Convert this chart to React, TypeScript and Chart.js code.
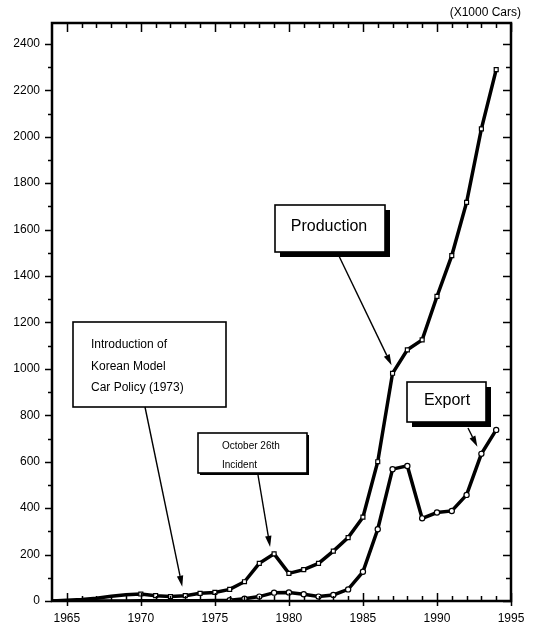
import React, { useEffect, useRef } from "react";
import { Chart, registerables } from "chart.js";

Chart.register(...registerables);

const years = [1964, 1965, 1966, 1967, 1968, 1969, 1970, 1971, 1972, 1973, 1974, 1975, 1976, 1977, 1978, 1979, 1980, 1981, 1982, 1983, 1984, 1985, 1986, 1987, 1988, 1989, 1990, 1991, 1992, 1993, 1994];
const production = [0, 3, 6, 12, 20, 27, 30, 23, 19, 23, 33, 37, 50, 83, 162, 203, 119, 135, 162, 215, 273, 361, 600, 981, 1082, 1125, 1312, 1488, 1717, 2034, 2289];
const exportVals = [0, 0, 0, 0, 0, 0, 1, 1, 1, 1, 1, 2, 3, 10, 19, 36, 37, 29, 19, 26, 50, 126, 309, 568, 582, 356, 381, 388, 457, 634, 737];
const xTickLabels = [1965, 1970, 1975, 1980, 1985, 1990, 1995];
const yTickLabels = [0, 200, 400, 600, 800, 1000, 1200, 1400, 1600, 1800, 2000, 2200, 2400];
const yMinorTicks = [100, 300, 500, 700, 900, 1100, 1300, 1500, 1700, 1900, 2100, 2300];
const unitLabel = "(X1000 Cars)";
const notePolicy = ["Introduction of", "Korean Model", "Car Policy (1973)"];
const noteOctober = ["October 26th", "Incident"];
const noteProduction = "Production";
const noteExport = "Export";

const FONT = "'Liberation Sans', Arial, sans-serif";

function drawArrow(ctx: CanvasRenderingContext2D, x1: number, y1: number, x2: number, y2: number) {
  ctx.save();
  ctx.strokeStyle = "#000";
  ctx.fillStyle = "#000";
  ctx.lineWidth = 1.4;
  const ang = Math.atan2(y2 - y1, x2 - x1);
  const hl = 11;
  const hw = 3.2;
  const bx = x2 - hl * Math.cos(ang);
  const by = y2 - hl * Math.sin(ang);
  ctx.beginPath();
  ctx.moveTo(x1, y1);
  ctx.lineTo(bx, by);
  ctx.stroke();
  ctx.beginPath();
  ctx.moveTo(x2, y2);
  ctx.lineTo(bx + hw * Math.sin(ang), by - hw * Math.cos(ang));
  ctx.lineTo(bx - hw * Math.sin(ang), by + hw * Math.cos(ang));
  ctx.closePath();
  ctx.fill();
  ctx.restore();
}

function drawBox(ctx: CanvasRenderingContext2D, x: number, y: number, w: number, h: number, shadow: number) {
  ctx.save();
  if (shadow > 0) {
    ctx.fillStyle = "#000";
    ctx.fillRect(x + shadow, y + shadow, w, h);
  }
  ctx.fillStyle = "#fff";
  ctx.fillRect(x, y, w, h);
  ctx.strokeStyle = "#000";
  ctx.lineWidth = 1.6;
  ctx.strokeRect(x, y, w, h);
  ctx.restore();
}

const framePlugin = {
  id: "frameTicks",
  afterDraw(chart: any) {
    const { ctx, chartArea, scales } = chart;
    const { left, right, top, bottom } = chartArea;
    const x = scales.x;
    const y = scales.y;
    ctx.save();
    ctx.strokeStyle = "#000";
    ctx.lineWidth = 1.5;
    const allY = [...yTickLabels.map((v) => ({ v, major: true })), ...yMinorTicks.map((v) => ({ v, major: false }))];
    allY.forEach(({ v, major }) => {
      const py = Math.round(y.getPixelForValue(v)) + 0.5;
      ctx.beginPath();
      ctx.moveTo(left, py);
      ctx.lineTo(left - (major ? 7 : 4), py);
      ctx.moveTo(right, py);
      ctx.lineTo(right - (major ? 8 : 5), py);
      ctx.stroke();
    });
    for (let i = 0; i < years.length + 1; i++) {
      const yr = years[0] + i + 1;
      if (yr > 1995) break;
      const major = xTickLabels.includes(yr);
      const px = Math.round(x.getPixelForValue(yr)) + 0.5;
      ctx.beginPath();
      ctx.moveTo(px, bottom + (major ? 5 : 0));
      ctx.lineTo(px, bottom - (major ? 8 : 5));
      ctx.moveTo(px, top);
      ctx.lineTo(px, top + (major ? 9 : 5));
      ctx.stroke();
    }
    ctx.lineWidth = 2.5;
    ctx.strokeRect(left, top, right - left, bottom - top);
    ctx.restore();

    // unit label
    ctx.save();
    ctx.fillStyle = "#000";
    ctx.font = `12px ${FONT}`;
    ctx.textAlign = "right";
    ctx.textBaseline = "middle";
    ctx.fillText(unitLabel, 521, 13);
    ctx.restore();

    // annotations
    const pt = (yr: number, arr: number[]) => {
      const i = years.indexOf(yr);
      return { px: x.getPixelForValue(yr), py: y.getPixelForValue(arr[i]) };
    };

    // Policy box
    drawBox(ctx, 73, 322, 153, 85, 0);
    ctx.save();
    ctx.fillStyle = "#000";
    ctx.font = `12px ${FONT}`;
    ctx.textBaseline = "middle";
    notePolicy.forEach((t, i) => ctx.fillText(t, 91, 345 + i * 21.5));
    ctx.restore();
    const p73 = pt(1973, production);
    drawArrow(ctx, 145, 407, p73.px - 3, p73.py - 9);

    // October box
    drawBox(ctx, 198, 433, 109, 40, 2);
    ctx.save();
    ctx.fillStyle = "#000";
    ctx.font = `10px ${FONT}`;
    ctx.textBaseline = "middle";
    noteOctober.forEach((t, i) => ctx.fillText(t, 222, 446 + i * 19));
    ctx.restore();
    const p79 = pt(1979, production);
    drawArrow(ctx, 258, 475, p79.px - 4, p79.py - 7);

    // Production box
    drawBox(ctx, 275, 205, 110, 47, 5);
    ctx.save();
    ctx.fillStyle = "#000";
    ctx.font = `16px ${FONT}`;
    ctx.textAlign = "center";
    ctx.textBaseline = "middle";
    ctx.fillText(noteProduction, 329, 227);
    ctx.restore();
    const p87 = pt(1987, production);
    drawArrow(ctx, 338, 254, p87.px - 1, p87.py - 8);

    // Export box
    drawBox(ctx, 407, 382, 79, 40, 5);
    ctx.save();
    ctx.fillStyle = "#000";
    ctx.font = `16px ${FONT}`;
    ctx.textAlign = "center";
    ctx.textBaseline = "middle";
    ctx.fillText(noteExport, 447, 401);
    ctx.restore();
    const e93 = pt(1993, exportVals);
    drawArrow(ctx, 468, 428, e93.px - 4, e93.py - 7);
  },
};

export default function App() {
  const ref = useRef<HTMLCanvasElement | null>(null);
  useEffect(() => {
    if (!ref.current) return;
    const chart = new Chart(ref.current, {
      type: "line",
      data: {
        datasets: [
          {
            label: "Production",
            data: years.map((yr, i) => ({ x: yr, y: production[i] })),
            borderColor: "#000",
            borderWidth: 3.5,
            pointStyle: "rect",
            pointRadius: years.map((yr) => (yr < 1970 ? 0 : 2.8)),
            pointBackgroundColor: "#fff",
            pointBorderColor: "#000",
            pointBorderWidth: 1.2,
            tension: 0,
          },
          {
            label: "Export",
            data: years.map((yr, i) => ({ x: yr, y: exportVals[i] })),
            borderColor: "#000",
            borderWidth: 3.5,
            pointStyle: "circle",
            pointRadius: years.map((yr) => (yr < 1976 ? 0 : 2.6)),
            pointBackgroundColor: "#fff",
            pointBorderColor: "#000",
            pointBorderWidth: 1.2,
            tension: 0,
          },
        ],
      },
      options: {
        responsive: false,
        animation: false,
        events: [],
        layout: { padding: { top: 23, right: 24, left: 0, bottom: 0 } },
        plugins: { legend: { display: false }, tooltip: { enabled: false } },
        scales: {
          x: {
            type: "linear",
            min: 1964,
            max: 1995,
            grid: { display: true, drawOnChartArea: false, drawTicks: false, color: "transparent" },
            border: { display: false },
            ticks: {
              padding: 10,
              color: "#000",
              font: { family: FONT, size: 12 },
              callback: (v: any) => String(v),
            },
            afterBuildTicks: (s: any) => {
              s.ticks = xTickLabels.map((v) => ({ value: v }));
            },
            afterFit: (s: any) => {
              s.height = 27;
            },
          },
          y: {
            type: "linear",
            min: 0,
            max: 2490,
            grid: { display: true, drawOnChartArea: false, drawTicks: false, color: "transparent" },
            border: { display: false },
            ticks: {
              padding: 12,
              color: "#000",
              font: { family: FONT, size: 12 },
              callback: (v: any) => String(v),
            },
            afterBuildTicks: (s: any) => {
              s.ticks = yTickLabels.map((v) => ({ value: v }));
            },
            afterFit: (s: any) => {
              s.width = 52;
            },
          },
        },
      },
      plugins: [framePlugin],
    });
    return () => chart.destroy();
  }, []);
  return (
    <div style={{ position: "absolute", left: 0, top: 0, width: 535, height: 628, background: "#fff" }}>
      <canvas ref={ref} width={535} height={628} style={{ display: "block" }} />
    </div>
  );
}
